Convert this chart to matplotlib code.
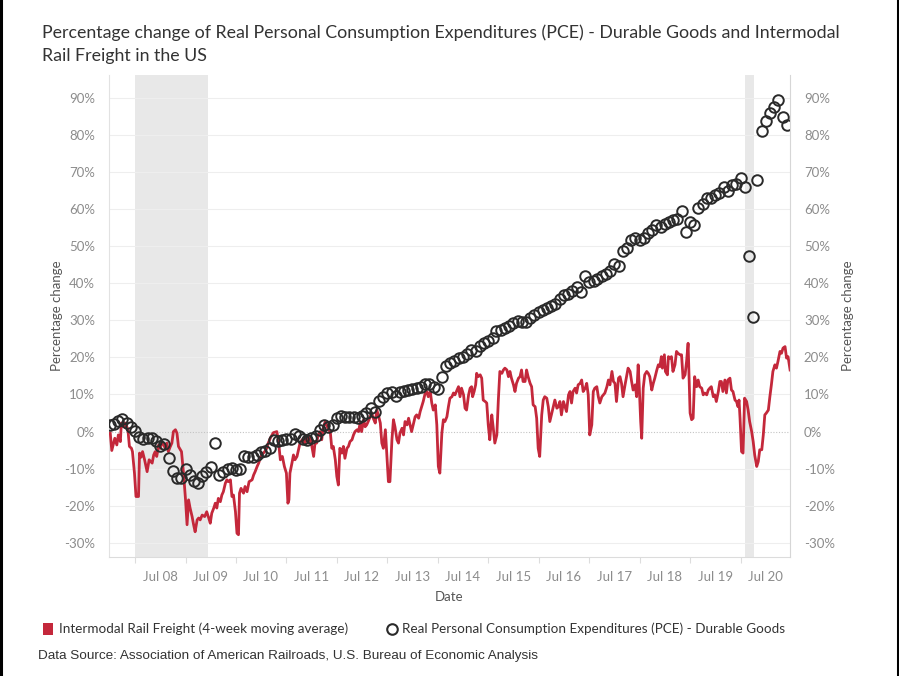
import numpy as np
import pandas as pd
import matplotlib
matplotlib.use('Agg')
import matplotlib.pyplot as plt
import matplotlib.dates as mdates
from matplotlib.lines import Line2D
from matplotlib.patches import Rectangle

plt.rcParams['font.family'] = ['Lato', 'DejaVu Sans']

# Real PCE - durable goods, % change, monthly from Jul 2007
pce_pct = [
    1.8, 2.0, 2.9, 3.5, 2.4, 1.2, 0.2, -1.4, -2.0, -1.7, -1.6, -2.6,
    -4.0, -3.3, -7.2, -10.6, -12.6, -12.6, -10.2, -11.7, -13.3, -13.9, -12.0, -11.0,
    -9.6, -3.1, -11.8, -10.8, -10.0, -9.8, -10.4, -10.2, -6.6, -6.9, -6.8, -6.2,
    -5.5, -5.1, -4.5, -2.3, -2.5, -2.2, -2.0, -1.9, -0.7, -1.3, -2.0, -2.2,
    -1.7, -1.3, 0.4, 1.7, 1.3, 1.8, 3.7, 4.3, 3.9, 3.9, 3.8, 3.7,
    4.3, 4.9, 6.3, 5.4, 8.3, 9.4, 10.5, 10.6, 9.6, 10.6, 10.9, 11.2,
    11.5, 11.7, 11.9, 12.7, 12.9, 11.9, 11.5, 14.8, 17.8, 18.5, 19.1, 19.8,
    20.2, 21.0, 21.9, 21.8, 23.1, 24.0, 24.3, 25.3, 27.1, 27.4, 27.8, 28.5,
    29.2, 29.9, 29.5, 29.5, 30.6, 31.3, 32.1, 32.9, 33.4, 33.8, 34.5, 35.8,
    36.8, 37.1, 38.0, 38.9, 37.7, 42.0, 40.4, 40.5, 41.1, 42.0, 42.5, 43.2,
    45.1, 44.5, 48.8, 49.6, 51.5, 52.2, 51.5, 52.3, 53.6, 54.4, 55.8, 55.1,
    56.0, 56.6, 57.1, 57.3, 59.5, 53.9, 56.4, 55.7, 60.3, 61.2, 62.9, 63.0,
    63.8, 64.3, 65.8, 64.9, 66.5, 66.7, 68.3, 66.0, 47.2, 30.8, 67.7, 81.0,
    83.7, 85.8, 87.6, 89.4, 84.9, 82.7,
]
pce_start = '2007-07-01'

# Intermodal rail freight (4-week moving average), % change, read at turning points
rail_years = [
    2007.51, 2007.54, 2007.60, 2007.64, 2007.67, 2007.71, 2007.73, 2007.77, 2007.81, 2007.86,
    2007.89, 2007.93, 2007.95, 2007.99, 2008.02, 2008.07, 2008.09, 2008.12, 2008.15, 2008.19,
    2008.24, 2008.28, 2008.34, 2008.37, 2008.40, 2008.43, 2008.47, 2008.50, 2008.53, 2008.60,
    2008.63, 2008.66, 2008.70, 2008.73, 2008.76, 2008.80, 2008.83, 2008.86, 2008.92, 2008.96,
    2009.00, 2009.03, 2009.06, 2009.09, 2009.13, 2009.16, 2009.19, 2009.23, 2009.26, 2009.29,
    2009.33, 2009.38, 2009.42, 2009.46, 2009.49, 2009.52, 2009.56, 2009.59, 2009.62, 2009.65,
    2009.69, 2009.72, 2009.75, 2009.79, 2009.82, 2009.85, 2009.89, 2009.92, 2009.95, 2009.99,
    2010.02, 2010.05, 2010.07, 2010.10, 2010.15, 2010.18, 2010.22, 2010.26, 2010.32, 2010.35,
    2010.38, 2010.42, 2010.45, 2010.48, 2010.51, 2010.57, 2010.61, 2010.64, 2010.68, 2010.74,
    2010.81, 2010.84, 2010.88, 2010.92, 2010.96, 2011.00, 2011.03, 2011.05, 2011.07, 2011.11,
    2011.14, 2011.17, 2011.21, 2011.24, 2011.27, 2011.31, 2011.34, 2011.37, 2011.40, 2011.44,
    2011.47, 2011.50, 2011.54, 2011.57, 2011.60, 2011.63, 2011.67, 2011.70, 2011.73, 2011.77,
    2011.80, 2011.83, 2011.87, 2011.90, 2011.93, 2011.97, 2012.00, 2012.03, 2012.06, 2012.10,
    2012.13, 2012.16, 2012.20, 2012.23, 2012.26, 2012.30, 2012.33, 2012.36, 2012.40, 2012.43,
    2012.46, 2012.49, 2012.53, 2012.56, 2012.59, 2012.62, 2012.66, 2012.69, 2012.72, 2012.76,
    2012.79, 2012.82, 2012.86, 2012.89, 2012.92, 2012.96, 2012.99, 2013.02, 2013.05, 2013.09,
    2013.12, 2013.15, 2013.19, 2013.22, 2013.25, 2013.29, 2013.32, 2013.35, 2013.39, 2013.42,
    2013.45, 2013.48, 2013.52, 2013.55, 2013.58, 2013.62, 2013.65, 2013.68, 2013.71, 2013.75,
    2013.78, 2013.81, 2013.85, 2013.88, 2013.91, 2013.95, 2013.98, 2014.01, 2014.04, 2014.08,
    2014.11, 2014.14, 2014.18, 2014.21, 2014.24, 2014.28, 2014.31, 2014.34, 2014.38, 2014.41,
    2014.44, 2014.47, 2014.51, 2014.54, 2014.57, 2014.61, 2014.64, 2014.67, 2014.69, 2014.72,
    2014.75, 2014.77, 2014.80, 2014.84, 2014.87, 2014.90, 2014.94, 2014.97, 2015.00, 2015.03,
    2015.07, 2015.10, 2015.13, 2015.17, 2015.20, 2015.23, 2015.27, 2015.30, 2015.33, 2015.37,
    2015.40, 2015.43, 2015.46, 2015.50, 2015.53, 2015.56, 2015.60, 2015.63, 2015.66, 2015.69,
    2015.73, 2015.76, 2015.79, 2015.83, 2015.86, 2015.89, 2015.93, 2015.96, 2015.99, 2016.02,
    2016.06, 2016.09, 2016.12, 2016.16, 2016.19, 2016.22, 2016.26, 2016.29, 2016.32, 2016.36,
    2016.39, 2016.42, 2016.45, 2016.49, 2016.52, 2016.55, 2016.59, 2016.62, 2016.65, 2016.68,
    2016.72, 2016.75, 2016.78, 2016.82, 2016.85, 2016.88, 2016.92, 2016.95, 2016.98, 2017.01,
    2017.05, 2017.08, 2017.11, 2017.15, 2017.18, 2017.21, 2017.25, 2017.28, 2017.31, 2017.35,
    2017.38, 2017.41, 2017.45, 2017.48, 2017.51, 2017.54, 2017.58, 2017.61, 2017.64, 2017.67,
    2017.71, 2017.74, 2017.77, 2017.81, 2017.84, 2017.87, 2017.91, 2017.94, 2017.97, 2017.99,
    2018.02, 2018.04, 2018.07, 2018.10, 2018.14, 2018.17, 2018.20, 2018.24, 2018.27, 2018.30,
    2018.34, 2018.37, 2018.40, 2018.43, 2018.45, 2018.49, 2018.51, 2018.55, 2018.57, 2018.60,
    2018.63, 2018.66, 2018.70, 2018.73, 2018.76, 2018.80, 2018.83, 2018.86, 2018.90, 2018.93,
    2018.96, 2019.00, 2019.03, 2019.06, 2019.09, 2019.13, 2019.16, 2019.19, 2019.23, 2019.26,
    2019.29, 2019.33, 2019.36, 2019.39, 2019.42, 2019.46, 2019.49, 2019.52, 2019.56, 2019.59,
    2019.62, 2019.65, 2019.69, 2019.72, 2019.75, 2019.79, 2019.82, 2019.85, 2019.89, 2019.92,
    2019.95, 2019.97, 2019.99, 2020.02, 2020.05, 2020.08, 2020.12, 2020.15, 2020.18, 2020.22,
    2020.25, 2020.28, 2020.32, 2020.35, 2020.38, 2020.42, 2020.45, 2020.48, 2020.51, 2020.55,
    2020.58, 2020.61, 2020.64, 2020.68, 2020.71, 2020.74, 2020.78, 2020.81, 2020.84, 2020.88,
    2020.91, 2020.94, 2020.98,
]
rail_pct = [
    -0.4, -5.1, -1.8, -3.6, -0.9, -2.7, 2.3, 1.3, 2.3, 0.5,
    -4.0, -4.5, -5.4, -11.2, -17.5, -17.5, -5.8, -6.9, -5.4, -7.6,
    -10.8, -7.6, -8.5, -6.3, -5.4, -6.7, -3.6, -4.5, -2.7, -4.5,
    -3.1, -5.4, -4.0, -3.1, 0.0, 0.5, -0.4, -4.0, -5.4, -11.2,
    -18.4, -25.1, -18.4, -20.6, -22.9, -25.1, -27.0, -23.8, -23.3, -23.8,
    -22.5, -22.9, -21.6, -23.3, -24.7, -22.0, -20.6, -19.3, -20.6, -18.0,
    -18.9, -17.1, -16.2, -13.9, -13.0, -13.5, -13.0, -17.5, -17.1, -21.6,
    -27.4, -27.8, -16.6, -15.3, -16.6, -14.8, -16.2, -13.5, -13.0, -11.7,
    -10.8, -9.4, -8.5, -7.2, -6.3, -5.4, -4.5, -3.1, -1.8, -0.3,
    0.0, -2.2, -7.6, -6.7, -9.4, -11.2, -19.3, -18.4, -11.2, -8.5,
    -6.3, -7.6, -6.7, -4.9, -3.1, -2.2, -2.2, -3.1, -1.3, -3.1,
    -1.3, -3.6, -6.7, -2.7, -3.1, -0.9, 0.0, -2.2, 0.9, 2.7,
    1.8, 0.5, 0.0, -4.5, -4.0, -7.6, -12.1, -14.4, -4.5, -5.8,
    -4.0, -7.2, -4.5, -4.0, -2.7, -2.2, -0.9, 0.0, 0.5, 0.0,
    2.3, 0.0, 3.2, 1.3, 1.8, 2.7, 4.0, 5.0, 3.6, 2.3,
    5.8, 4.5, 2.3, -3.1, -4.5, 0.5, -6.7, -13.5, -13.5, -2.2,
    3.2, 1.3, -2.2, -3.1, -0.4, 0.9, -0.9, 2.7, 1.8, 3.6,
    1.8, 0.0, 2.3, 4.0, 4.5, 3.6, 5.4, 6.7, 8.1, 10.4,
    10.8, 9.4, 10.8, 7.7, 5.8, 7.2, 1.8, -9.4, -11.2, -0.4,
    3.2, 2.7, 4.0, 6.7, 9.0, 9.4, 10.4, 9.9, 11.2, 12.1,
    9.4, 11.7, 9.9, 6.3, 5.8, 9.9, 11.7, 12.1, 9.4, 10.8,
    12.6, 15.7, 14.8, 15.3, 14.4, 8.5, 8.1, 7.7, 1.8, -2.2,
    4.5, 0.9, -3.1, -0.9, 8.5, 16.2, 15.7, 16.6, 17.1, 16.6,
    14.8, 16.2, 14.4, 12.6, 10.8, 13.0, 14.4, 14.8, 16.6, 13.5,
    13.5, 16.6, 14.8, 13.0, 12.1, 7.2, 6.7, 3.6, -4.5, -6.7,
    4.5, 8.5, 9.4, 9.0, 6.7, 2.7, 5.0, 6.7, 8.5, 6.3,
    6.7, 8.1, 4.5, 8.1, 6.7, 5.4, 9.9, 10.8, 7.7, 10.8,
    11.7, 10.4, 12.6, 13.0, 13.9, 10.8, 11.7, 13.0, 9.9, -0.9,
    1.8, 10.8, 11.7, 12.1, 9.4, 7.7, 9.4, 9.9, 10.4, 12.1,
    13.9, 12.6, 16.2, 13.5, 13.0, 8.1, 14.4, 14.8, 13.0, 9.4,
    12.6, 14.8, 17.1, 16.2, 13.5, 11.2, 12.6, 9.4, 18.0, 12.6,
    2.7, -1.8, 11.7, 15.3, 16.2, 15.7, 14.8, 11.2, 13.0, 14.4,
    16.6, 18.0, 17.5, 20.2, 17.1, 20.7, 16.2, 15.3, 20.2, 19.8,
    20.2, 16.2, 18.0, 21.6, 21.1, 20.7, 20.7, 14.4, 15.3, 18.9,
    23.8, 5.0, 3.2, 3.6, 14.8, 12.1, 13.9, 12.1, 11.7, 9.9,
    10.4, 9.9, 11.2, 11.7, 12.1, 9.4, 9.9, 8.1, 10.8, 13.5,
    13.5, 10.8, 13.9, 10.4, 13.9, 14.4, 11.2, 10.8, 8.5, 8.1,
    6.7, 8.5, 3.6, -5.4, -5.8, 9.0, 8.1, 5.8, 2.7, 0.0,
    -2.7, -6.3, -9.4, -8.1, -4.9, -4.9, -0.9, 4.5, 5.0, 5.8,
    9.4, 12.6, 16.2, 18.0, 17.1, 18.9, 21.6, 21.1, 22.5, 22.9,
    19.8, 20.2, 16.6,
]

recessions = [('2008-01-01', '2009-06-15'), ('2020-02-01', '2020-04-05')]
yticks = list(range(-30, 91, 10))
xtick_years = list(range(2008, 2021))

red = '#c4283b'
txt = '#333333'
tick_col = '#8c8c8c'


def to_date(y):
    yr = int(np.floor(y))
    start = pd.Timestamp(yr, 1, 1)
    return start + (pd.Timestamp(yr + 1, 1, 1) - start) * (y - yr)


rail_dates = [to_date(y) for y in rail_years]
pce_dates = pd.date_range(pce_start, periods=len(pce_pct), freq='MS')

W, H = 899, 676
fig = plt.figure(figsize=(W / 100, H / 100), dpi=100)
ax = fig.add_axes([109 / W, 1 - 557 / H, 681 / W, 482 / H])

for s, e in recessions:
    ax.axvspan(pd.Timestamp(s), pd.Timestamp(e), color='#e8e8e8', lw=0, zorder=0)
for t in yticks:
    if t == 0:
        ax.axhline(t, color='#c4c4c4', lw=0.8, ls=(0, (1, 1.5)), zorder=1)
    else:
        ax.axhline(t, color='#eeeeee', lw=0.8, zorder=1)

ax.plot(rail_dates, rail_pct, color=red, lw=2.0, zorder=3, solid_joinstyle='round')
ax.plot(pce_dates, pce_pct, ls='none', marker='o', ms=7.6, mfc='none',
        mec='#2a2a2a', mew=1.4, zorder=4)

ax.set_xlim(pd.Timestamp('2007-06-27'), pd.Timestamp('2020-12-24'))
ax.set_ylim(-33.8, 96.1)
ax.set_yticks(yticks)
ax.yaxis.set_major_formatter(lambda v, p: f'{v:.0f}%')
ax.tick_params(axis='y', length=0, pad=10, labelsize=9.5, labelcolor=tick_col)

ax.set_xticks([pd.Timestamp(y, 7, 1) for y in xtick_years])
ax.xaxis.set_major_formatter(mdates.DateFormatter('%b %y'))
ax.set_xticks([pd.Timestamp(y, 1, 1) for y in range(2008, 2021)], minor=True)
ax.tick_params(axis='x', which='major', length=0, pad=10, labelsize=9.5, labelcolor=tick_col)
ax.tick_params(axis='x', which='minor', length=4, color='#dddddd', width=0.8)

for side in ['top', 'right']:
    ax.spines[side].set_visible(False)
ax.spines['left'].set_color('#e2e2e2')
ax.spines['bottom'].set_color('#dcdcdc')

ax2 = ax.twinx()
ax2.set_ylim(ax.get_ylim())
ax2.set_yticks(yticks)
ax2.yaxis.set_major_formatter(lambda v, p: f'{v:.0f}%')
ax2.tick_params(axis='y', length=0, pad=10, labelsize=9.5, labelcolor=tick_col)
for side in ['top', 'left', 'bottom']:
    ax2.spines[side].set_visible(False)
ax2.spines['right'].set_color('#d6d6d6')

# axis titles
fig.text(57 / W, 1 - 316 / H, 'Percentage change', rotation=90, ha='center', va='center',
         fontsize=9.5, color='#555555')
fig.text(848 / W, 1 - 316 / H, 'Percentage change', rotation=90, ha='center', va='center',
         fontsize=9.5, color='#555555')
fig.text(449.5 / W, 1 - 597 / H, 'Date', ha='center', va='center', fontsize=9.5, color='#555555')

# title
fig.text(42 / W, 1 - 33 / H,
         'Percentage change of Real Personal Consumption Expenditures (PCE) - Durable Goods and Intermodal',
         fontsize=12.8, color=txt, va='center')
fig.text(42 / W, 1 - 56 / H, 'Rail Freight in the US', fontsize=12.8, color=txt, va='center')

# legend
fig.add_artist(Rectangle((43 / W, 1 - 635 / H), 10 / W, 12 / H, transform=fig.transFigure,
                         color=red, lw=0))
fig.text(59 / W, 1 - 629 / H, 'Intermodal Rail Freight (4-week moving average)',
         fontsize=9.7, color=txt, va='center')
fig.add_artist(Line2D([392 / W], [1 - 629 / H], marker='o', ms=7.6, mfc='none', mec='#2a2a2a',
                      mew=1.5, transform=fig.transFigure))
fig.text(402 / W, 1 - 629 / H, 'Real Personal Consumption Expenditures (PCE) - Durable Goods',
         fontsize=9.7, color=txt, va='center')

fig.text(38 / W, 1 - 656 / H,
         'Data Source: Association of American Railroads, U.S. Bureau of Economic Analysis',
         fontsize=9.7, color=txt, va='center', family='Liberation Sans')

# screenshot frame on the sides
for xf in (0.0015, 0.9985):
    fig.add_artist(Line2D([xf, xf], [0, 1], color='black', lw=2.2, transform=fig.transFigure))

fig.savefig('out.png', dpi=100)
